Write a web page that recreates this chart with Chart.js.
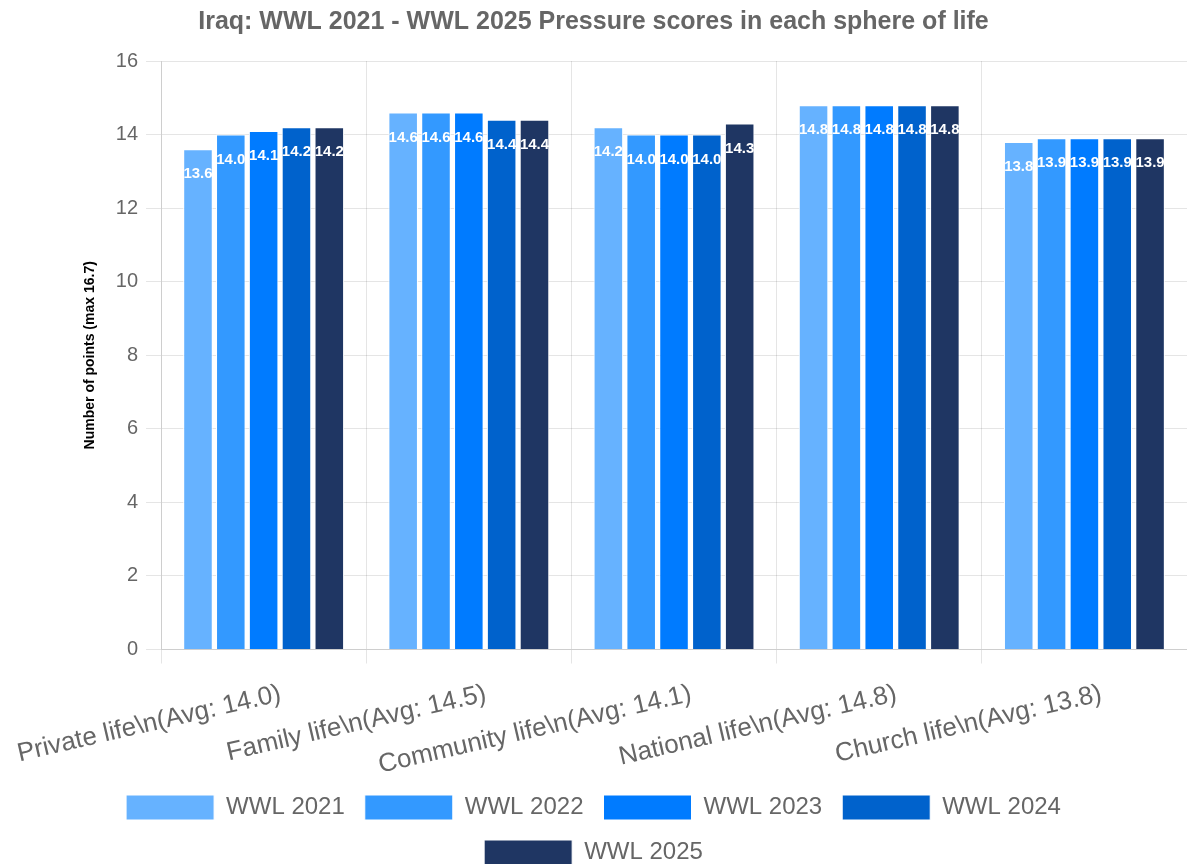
<!DOCTYPE html>
<html>
<head>
<meta charset="utf-8">
<script src="https://cdn.jsdelivr.net/npm/chart.js@4.4.0/dist/chart.umd.min.js"></script>
<style>
  html, body { margin: 0; padding: 0; background: #fff; }
  #wrap { width: 1187px; height: 864px; }
</style>
</head>
<body>
<div id="wrap"><canvas id="chart"></canvas></div>
<script>
// Categories and scores per year
const categories = [
    'Private life\\n(Avg: 14.0)',
    'Family life\\n(Avg: 14.5)',
    'Community life\\n(Avg: 14.1)',
    'National life\\n(Avg: 14.8)',
    'Church life\\n(Avg: 13.8)'
];
const years = ['WWL 2021', 'WWL 2022', 'WWL 2023', 'WWL 2024', 'WWL 2025'];
const wwl2021 = [13.6, 14.6, 14.2, 14.8, 13.8];
const wwl2022 = [14.0, 14.6, 14.0, 14.8, 13.9];
const wwl2023 = [14.1, 14.6, 14.0, 14.8, 13.9];
const wwl2024 = [14.2, 14.4, 14.0, 14.8, 13.9];
const wwl2025 = [14.2, 14.4, 14.3, 14.8, 13.9];
const colors = ['#66b2ff', '#3399ff', '#007bff', '#0062cc', '#1f3663'];

const series = [wwl2021, wwl2022, wwl2023, wwl2024, wwl2025];
const FONT = 'Arial, "Liberation Sans", sans-serif';

// Simple value labels drawn inside the bars
const valueLabels = {
    id: 'valueLabels',
    afterDatasetsDraw(chart) {
        const ctx = chart.ctx;
        ctx.save();
        ctx.fillStyle = '#ffffff';
        ctx.font = 'bold 15px ' + FONT;
        ctx.textAlign = 'center';
        ctx.textBaseline = 'middle';
        chart.data.datasets.forEach((ds, i) => {
            chart.getDatasetMeta(i).data.forEach((bar, j) => {
                ctx.fillText(ds.data[j].toFixed(1), bar.x, bar.y + 25);
            });
        });
        ctx.restore();
    }
};

new Chart(document.getElementById('chart'), {
    type: 'bar',
    data: {
        labels: categories,
        datasets: years.map((y, i) => ({
            label: y,
            data: series[i],
            backgroundColor: colors[i],
            borderColor: '#ffffff',
            borderWidth: 1
        }))
    },
    options: {
        responsive: true,
        maintainAspectRatio: false,
        animation: false,
        layout: { padding: { left: 0, right: 0, top: 0, bottom: -11 } },
        plugins: {
            title: {
                display: true,
                text: 'Iraq: WWL 2021 - WWL 2025 Pressure scores in each sphere of life',
                color: '#666',
                font: { size: 25, weight: 'bold', family: FONT },
                padding: { top: 7, bottom: 24 }
            },
            legend: {
                position: 'bottom',
                labels: {
                    boxWidth: 88,
                    boxHeight: 25,
                    color: '#666',
                    padding: 20,
                    font: { size: 24, family: FONT }
                }
            },
            tooltip: { enabled: false }
        },
        scales: {
            y: {
                min: 0,
                max: 16,
                ticks: {
                    stepSize: 2,
                    color: '#666',
                    padding: 8,
                    font: { size: 20, family: FONT }
                },
                grid: { color: 'rgba(0,0,0,0.1)', tickLength: 15 },
                title: {
                    display: true,
                    text: 'Number of points (max 16.7)',
                    color: '#000',
                    padding: { top: 82, bottom: 9 },
                    font: { size: 14, weight: 'bold', family: FONT }
                }
            },
            x: {
                // let the rotated labels run into the left margin, and tighten the gap above the legend
                afterFit(scale) {
                    scale.paddingLeft = 0;
                    scale.height -= 21;
                },
                ticks: {
                    color: '#666',
                    padding: 15,
                    labelOffset: 17,
                    minRotation: 13,
                    maxRotation: 13,
                    font: { size: 26, family: FONT }
                },
                grid: { color: 'rgba(0,0,0,0.1)', tickLength: 14 }
            }
        }
    },
    plugins: [valueLabels]
});
</script>
</body>
</html>
